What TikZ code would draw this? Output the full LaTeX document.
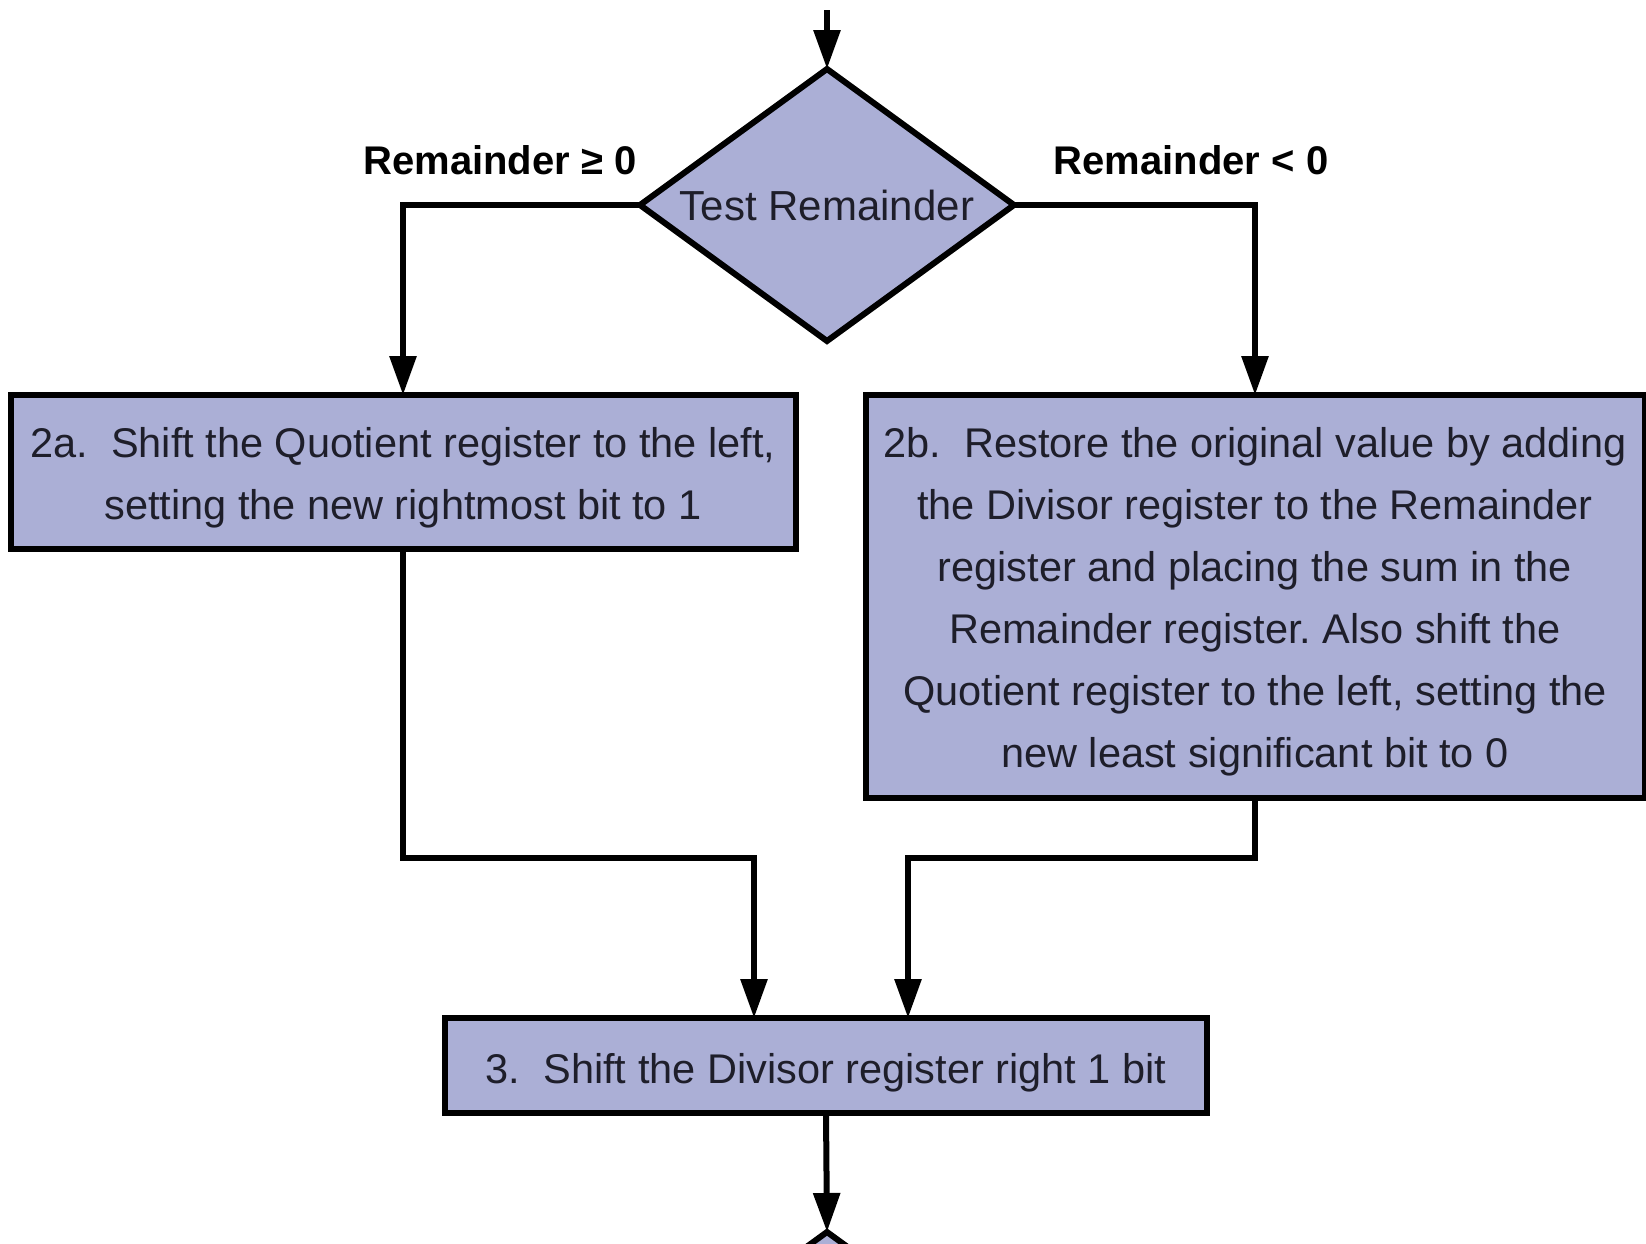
\documentclass[tikz,border=0pt]{standalone}
\usepackage{fontspec}
\setmainfont{Liberation Sans}
\usetikzlibrary{shapes.geometric,arrows.meta}
\definecolor{stepfill}{RGB}{171,175,214}
\definecolor{steptext}{RGB}{30,30,42}
\frenchspacing
% extra head room on the first line, so the text sits a little lower in its box
\newcommand\toppad[1]{\rule{0pt}{#1}}
\begin{document}
\begin{tikzpicture}[x=1pt,y=-1pt,
  every node/.style={inner sep=0pt,outer sep=0pt},
  stepbox/.style={draw=black,line width=6pt,fill=stepfill,rectangle,
    text=steptext,align=center,font=\fontsize{41.5}{62}\selectfont},
  decision/.style={draw=black,line width=6pt,fill=stepfill,diamond,aspect=1.4,
    text=steptext,font=\fontsize{42}{48}\selectfont},
  branch/.style={font=\bfseries\fontsize{40}{44}\selectfont,text=black},
  flow/.style={draw=black,line width=6pt},
  arr/.style={flow,-{Triangle[length=39pt,width=26pt]}}]
\clip (0,0) rectangle (1646,1243);

% decision
\node[decision,minimum width=374pt,minimum height=272pt] (test) at (827,205) {Test Remainder};
\coordinate (entry) at (827,10);
\draw[arr] (entry) -- (test.north);

% branch labels
\node[branch] (ge) at (500,160) {Remainder ≥ 0};
\node[branch] (lt) at (1191,160) {Remainder < 0};

% the two alternatives
\node[stepbox,minimum width=785pt,minimum height=154pt] (s2a) at (403,472)
  {\toppad{41pt}2a.\ \ Shift the Quotient register to the left,\\setting the new rightmost bit to 1};
\node[stepbox,minimum width=779pt,minimum height=403pt] (s2b) at (1255,596.5)
  {\toppad{41pt}2b.\ \ Restore the original value by adding\\
   the Divisor register to the Remainder\\
   register and placing the sum in the\\
   Remainder register. Also shift the\\
   Quotient register to the left, setting the\\
   new least significant bit to 0};

% step 3
\node[stepbox,minimum width=762pt,minimum height=95pt] (s3) at (826,1065.5)
  {\toppad{45pt}3.\ \ Shift the Divisor register right 1 bit};

% next decision, only its top shows
\node[decision,minimum width=374pt,minimum height=272pt] (next) at (827,1368) {};

% connectors
\draw[arr] (test.west) -| (s2a.north);
\draw[arr] (test.east) -| (s2b.north);
\coordinate (joinA) at (754,858);
\coordinate (joinB) at (908,858);
\draw[arr] (s2a.south) |- (joinA) -- (joinA |- s3.north);
\draw[arr] (s2b.south) |- (joinB) -- (joinB |- s3.north);
\draw[arr] (s3.south) -- (next.north);
\end{tikzpicture}
\end{document}
